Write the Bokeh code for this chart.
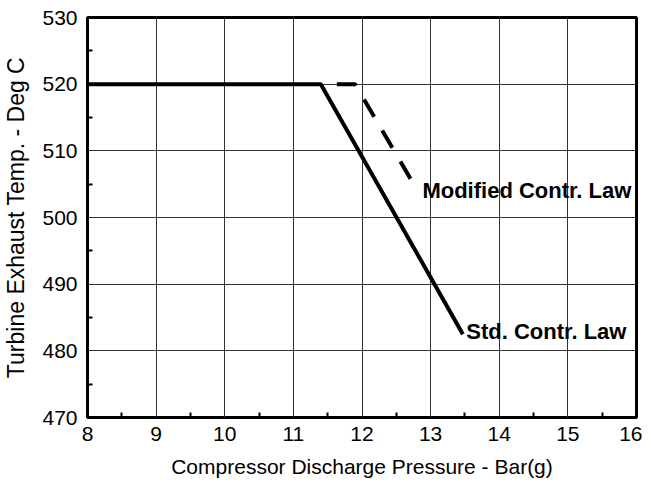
from bokeh.plotting import figure
from bokeh.embed import file_html
from bokeh.resources import INLINE
from bokeh.models import FixedTicker, Range1d
from bokeh.core.properties import value

std_x = [8, 11.4, 13.47]
std_y = [520, 520, 482.5]
mod_x = [11.4, 11.9, 12.82]
mod_y = [520, 520, 503.8]
labels = ["Modified Contr. Law", "Std. Contr. Law"]
label_x = [12.88, 13.52]
label_y = [504.0, 482.9]
x_title = "Compressor Discharge Pressure - Bar(g)"
y_title = "Turbine Exhaust Temp. - Deg C"

p = figure(frame_width=549, frame_height=400, output_backend="svg", toolbar_location=None,
           x_range=Range1d(8, 16), y_range=Range1d(470, 530),
           min_border_left=87, min_border_right=6, min_border_top=17, min_border_bottom=62)
p.background_fill_color = "white"
p.border_fill_color = "white"
p.outline_line_color = "black"
p.outline_line_width = 3
p.outline_line_alpha = 1

font = "Liberation Sans"
for ax in (p.xaxis[0], p.yaxis[0]):
    ax.axis_line_color = None
    ax.major_tick_in = 0
    ax.major_tick_out = 0
    ax.minor_tick_in = 5
    ax.minor_tick_out = 0
    ax.minor_tick_line_color = "black"
    ax.minor_tick_line_width = 2
    ax.major_label_text_font = font
    ax.major_label_text_font_size = "21px"
    ax.major_label_text_color = "black"
    ax.axis_label_text_font = font
    ax.axis_label_text_font_style = "normal"
    ax.axis_label_text_color = "black"

p.xaxis[0].axis_label = x_title
p.yaxis[0].axis_label = y_title
p.xaxis[0].axis_label_text_font_size = "21px"
p.yaxis[0].axis_label_text_font_size = "23px"
p.xaxis[0].ticker = FixedTicker(ticks=list(range(8, 17)), minor_ticks=[8.5 + i for i in range(8)])
p.yaxis[0].ticker = FixedTicker(ticks=list(range(470, 531, 10)), minor_ticks=[475 + 10 * i for i in range(6)])
p.xaxis[0].major_label_standoff = 9
p.yaxis[0].major_label_standoff = 10
p.xaxis[0].axis_label_standoff = 11
p.yaxis[0].axis_label_standoff = 10

p.xgrid.grid_line_color = "#333333"
p.ygrid.grid_line_color = "#333333"
p.xgrid.grid_line_width = 1
p.ygrid.grid_line_width = 1

p.line(std_x, std_y, line_color="black", line_width=4)
p.line(mod_x, mod_y, line_color="black", line_width=4, line_dash="20 16", line_dash_offset=20)

p.text(x=label_x, y=label_y, text=labels, text_font=value(font), text_font_size="22px",
       text_font_style="bold", text_color="black", text_align="left", text_baseline="middle")

open("out.html", "w").write(file_html(p, INLINE))
